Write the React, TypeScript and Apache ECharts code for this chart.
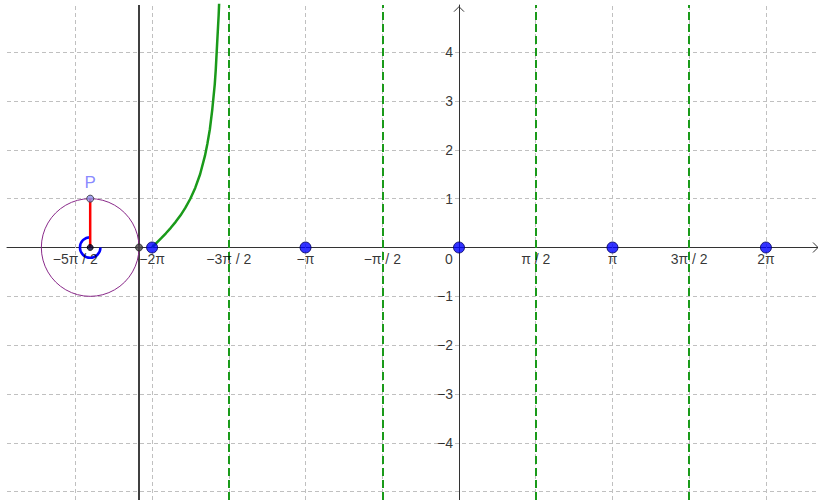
import React, { useEffect, useRef } from "react";
import * as echarts from "echarts";

const PI = Math.PI;

// axis ranges
const xRange = [-9.253, 7.349];
const yRange = [-5.169, 4.964];

// tick values and labels
const xTickValues = [-2.5 * PI, -2 * PI, -1.5 * PI, -PI, -0.5 * PI, 0, 0.5 * PI, PI, 1.5 * PI, 2 * PI];
const xTickLabels = ["−5π / 2", "−2π", "−3π / 2", "−π", "−π / 2", "0", "π / 2", "π", "3π / 2", "2π"];
const gridXValues = [-2.5 * PI, -2 * PI, -1.5 * PI, -PI, -0.5 * PI, 0.5 * PI, PI, 1.5 * PI, 2 * PI];
const yTickValues = [-4, -3, -2, -1, 1, 2, 3, 4];
const yTickLabels = ["−4", "−3", "−2", "−1", "1", "2", "3", "4"];
const gridYValues = [-5, -4, -3, -2, -1, 1, 2, 3, 4];

// asymptotes and zeros of tan
const asymptotes = [-1.5 * PI, -0.5 * PI, 0.5 * PI, 1.5 * PI];
const zeros = [-2 * PI, -PI, 0, PI, 2 * PI];

// traced curve
const curveX = [-6.283, -6.1, -6.0, -5.9, -5.8, -5.7, -5.6, -5.5, -5.4, -5.3, -5.2, -5.15, -5.1, -5.05, -5.0, -4.98, -4.95, -4.92, -4.9];
const curveY = [0, 0.185, 0.291, 0.403, 0.525, 0.659, 0.815, 0.998, 1.22, 1.5, 1.88, 2.13, 2.42, 2.83, 3.34, 3.63, 4.2, 4.76, 5.26];

// unit circle construction
const circleCenter = [-7.55, 0];
const circleRadius = 1;
const pointP = [-7.55, 1];
const tangentX = -6.55;
const angleArcRadius = 0.21;

const FONT = "'Liberation Sans', Arial, sans-serif";

export default function App() {
  const ref = useRef<HTMLDivElement>(null);

  useEffect(() => {
    if (!ref.current) return;
    const chart = echarts.init(ref.current, undefined, { renderer: "svg" });

    const curveData = curveX.map((x, i) => [x, curveY[i]]);

    const option: any = {
      animation: false,
      grid: { left: 7, top: 5, right: 0, bottom: 0, containLabel: false },
      xAxis: {
        type: "value",
        min: xRange[0],
        max: xRange[1],
        z: 3,
        axisLine: { show: true, onZero: true, lineStyle: { color: "#333", width: 1 } },
        axisTick: { show: false },
        axisLabel: { show: false },
        splitLine: { show: false },
      },
      yAxis: {
        type: "value",
        min: yRange[0],
        max: yRange[1],
        z: 3,
        axisLine: { show: true, onZero: true, lineStyle: { color: "#333", width: 1 } },
        axisTick: { show: false },
        axisLabel: { show: false },
        splitLine: { show: false },
      },
      series: [
        {
          // grid lines
          type: "line",
          data: [],
          z: 1,
          silent: true,
          markLine: {
            silent: true,
            symbol: "none",
            label: { show: false },
            lineStyle: { color: "#c0c0c0", width: 1, type: [4, 3] },
            data: [
              ...gridXValues.map((v) => ({ xAxis: v })),
              ...gridYValues.map((v) => ({ yAxis: v })),
            ],
          },
        },
        {
          // asymptotes
          type: "line",
          data: [],
          z: 2,
          silent: true,
          markLine: {
            silent: true,
            symbol: "none",
            label: { show: false },
            lineStyle: { color: "#1a9a1a", width: 2, type: [8, 4] },
            data: asymptotes.map((v) => ({ xAxis: v })),
          },
        },
        {
          // tangent vertical line
          type: "line",
          data: [],
          z: 4,
          silent: true,
          markLine: {
            silent: true,
            symbol: "none",
            label: { show: false },
            lineStyle: { color: "#000", width: 1.5, type: "solid" },
            data: [{ xAxis: tangentX }],
          },
        },
        {
          // traced tan curve
          type: "line",
          data: curveData,
          z: 5,
          clip: true,
          smooth: false,
          showSymbol: false,
          symbol: "none",
          lineStyle: { color: "#1a9a1a", width: 2.5 },
        },
        {
          // unit circle
          type: "custom",
          z: 5,
          silent: true,
          data: [[circleCenter[0], circleCenter[1], circleRadius]],
          renderItem: (params: any, api: any) => {
            const c = api.coord([api.value(0), api.value(1)]);
            const s = api.size([api.value(2), api.value(2)]);
            return {
              type: "circle",
              shape: { cx: c[0], cy: c[1], r: s[0] },
              style: { fill: "none", stroke: "#8a2a8a", lineWidth: 1 },
            };
          },
        },
        {
          // red segment
          type: "line",
          data: [circleCenter, pointP],
          z: 6,
          symbol: "none",
          lineStyle: { color: "#ff0000", width: 2.5 },
        },
        {
          // angle arc
          type: "custom",
          z: 6,
          silent: true,
          data: [[circleCenter[0], circleCenter[1], angleArcRadius]],
          renderItem: (params: any, api: any) => {
            const c = api.coord([api.value(0), api.value(1)]);
            const s = api.size([api.value(2), api.value(2)]);
            return {
              type: "arc",
              shape: { cx: c[0], cy: c[1], r: s[0], startAngle: 0, endAngle: 1.5 * PI, clockwise: true },
              style: { fill: "none", stroke: "#0000ff", lineWidth: 2.5 },
            };
          },
        },
        {
          // axis arrows
          type: "custom",
          z: 4,
          silent: true,
          clip: false,
          data: [
            [xRange[1], 0, 0],
            [0, 4.93, 1],
          ],
          renderItem: (params: any, api: any) => {
            const c = api.coord([api.value(0), api.value(1)]);
            const dir = api.value(2);
            const pts =
              dir === 0
                ? [[c[0] - 5, c[1] - 5], [c[0], c[1]], [c[0] - 5, c[1] + 5]]
                : [[c[0] - 5, c[1] + 5], [c[0], c[1]], [c[0] + 5, c[1] + 5]];
            return {
              type: "polyline",
              shape: { points: pts },
              style: { fill: "none", stroke: "#333", lineWidth: 1 },
            };
          },
        },
        {
          // zeros of tan
          type: "scatter",
          z: 7,
          symbolSize: 11,
          itemStyle: { color: "#0000ff", borderColor: "#00005a", borderWidth: 1 },
          data: zeros.map((v) => [v, 0]),
        },
        {
          // construction points
          type: "scatter",
          z: 8,
          data: [
            { value: circleCenter, symbolSize: 6, itemStyle: { color: "#00003a", borderColor: "#000", borderWidth: 1 } },
            { value: [tangentX, 0], symbolSize: 7, itemStyle: { color: "#444", borderColor: "#222", borderWidth: 1 } },
            {
              value: pointP,
              symbolSize: 7,
              itemStyle: { color: "#8c8ce8", borderColor: "#333", borderWidth: 1 },
              label: {
                show: true,
                formatter: "P",
                position: "top",
                distance: 4,
                color: "#6a6aff",
                fontSize: 17,
                fontFamily: FONT,
              },
            },
          ],
        },
        {
          // x tick labels
          type: "scatter",
          z: 9,
          silent: true,
          symbolSize: 0,
          label: {
            show: true,
            position: "bottom",
            distance: 5,
            color: "#000",
            fontSize: 14,
            fontFamily: FONT,
            formatter: (p: any) => p.data.name,
          },
          data: xTickValues.map((v, i) => ({
            value: [v, 0],
            name: xTickLabels[i],
            label: v === 0 ? { offset: [-10, 0] } : undefined,
          })),
        },
        {
          // y tick labels
          type: "scatter",
          z: 9,
          silent: true,
          symbolSize: 0,
          label: {
            show: true,
            position: "left",
            distance: 6,
            color: "#000",
            fontSize: 14,
            fontFamily: FONT,
            formatter: (p: any) => p.data.name,
          },
          data: yTickValues.map((v, i) => ({ value: [0, v], name: yTickLabels[i] })),
        },
      ],
    };

    chart.setOption(option);
    return () => chart.dispose();
  }, []);

  return (
    <div
      ref={ref}
      style={{ position: "fixed", left: 0, top: 0, width: 818, height: 500, background: "#fff" }}
    />
  );
}
